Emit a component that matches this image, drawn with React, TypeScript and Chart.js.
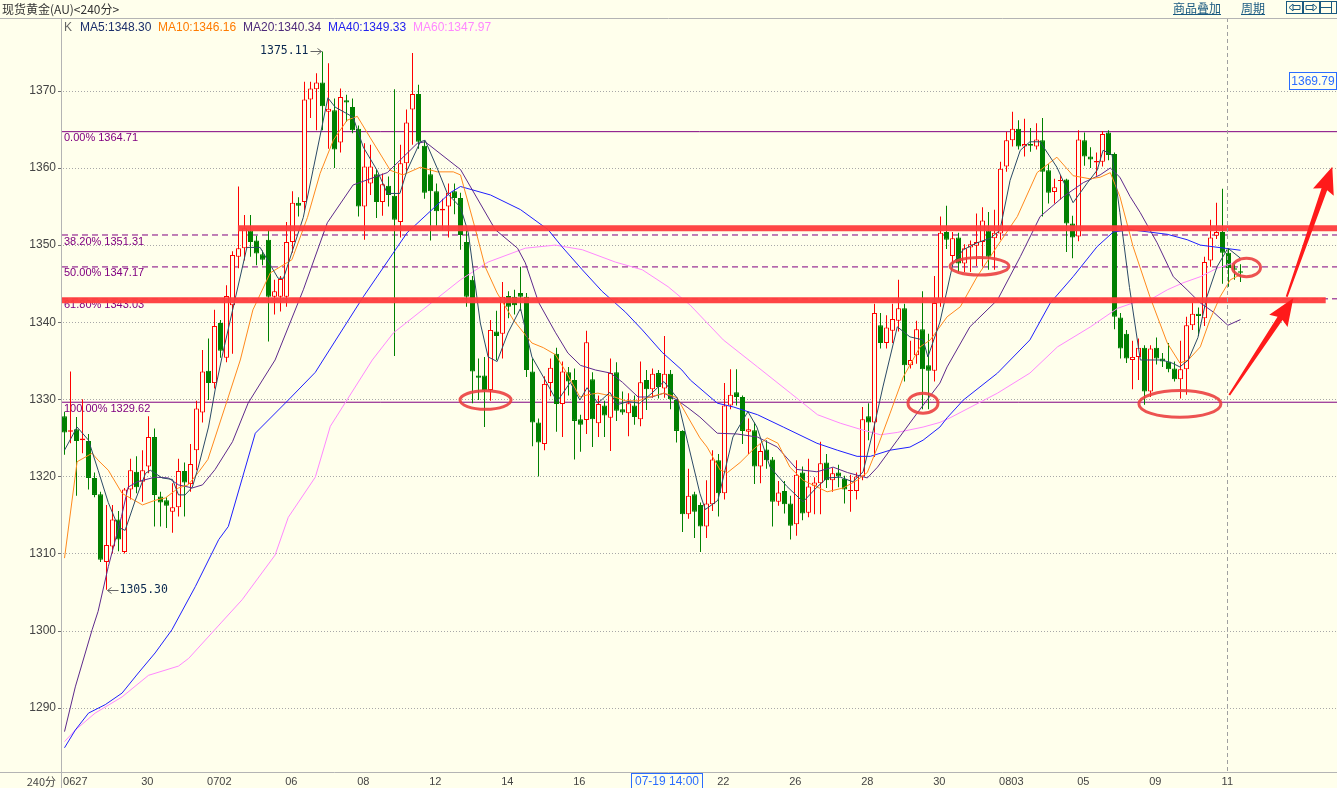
import React, { useEffect, useRef } from "react";
import { Chart, registerables } from "chart.js";

Chart.register(...registerables);

const W = 1337;
const H = 788;
const BG = "#FFFFEC";
const UP = "#FF0000";
const DOWN = "#008000";

const X_MIN = -0.4167;
const X_MAX = 212.0833;
const Y_MIN = 1281.66;
const Y_MAX = 1379.455;

const yTickValues = [1290, 1300, 1310, 1320, 1330, 1340, 1350, 1360, 1370];
const xTickPositions = [1.8, 13.8, 25.8, 37.8, 49.8, 61.8, 73.8, 85.8, 97.8, 109.8, 121.8, 133.8, 145.8, 157.8, 169.8, 181.8, 193.8];
const xTickLabels = ["0627", "30", "0702", "06", "08", "12", "14", "16", "", "22", "26", "28", "30", "0803", "05", "09", "11"];

const openPrices = [
  1327.8, 1325.8, 1326.1, 1324.7, 1324.6, 1319.8, 1317.7, 1308.9, 1310.9, 1314.4,
  1310.2, 1318.3, 1320.6, 1319.3, 1321.3, 1325.1, 1317.4, 1316.9, 1315.4, 1316.0,
  1320.7, 1319.0, 1323.4, 1328.3, 1333.7, 1332.1, 1339.9, 1335.4, 1342.2, 1348.5,
  1349.6, 1351.9, 1350.6, 1348.8, 1350.7, 1343.3, 1343.3, 1343.3, 1350.4, 1355.5,
  1355.6, 1368.9, 1370.2, 1371.1, 1367.3, 1367.5, 1363.3, 1368.8, 1367.9, 1365.1,
  1355.0, 1358.0, 1359.2, 1355.6, 1357.7, 1356.4, 1353.0, 1360.6, 1367.6, 1369.6,
  1362.9, 1359.2, 1357.0, 1354.5, 1355.0, 1357.0, 1356.1, 1350.4, 1345.5, 1333.1,
  1333.1, 1331.2, 1338.8, 1338.5, 1343.4, 1343.3, 1343.8, 1343.3, 1333.6, 1327.0,
  1324.2, 1332.1, 1335.9, 1329.4, 1333.5, 1332.5, 1327.4, 1327.3, 1332.6, 1326.9,
  1329.2, 1327.6, 1333.5, 1328.7, 1328.2, 1329.2, 1327.4, 1332.5, 1331.3, 1333.4,
  1331.4, 1333.3, 1329.9, 1325.9, 1315.1, 1317.7, 1316.3, 1313.5, 1316.4, 1322.1,
  1317.8, 1329.2, 1330.9, 1330.3, 1325.8, 1326.0, 1321.3, 1323.5, 1322.2, 1316.7,
  1318.1, 1316.5, 1313.8, 1320.5, 1315.3, 1318.8, 1319.1, 1321.8, 1319.5, 1320.5,
  1319.7, 1318.1, 1318.1, 1320.0, 1327.8, 1327.0, 1339.6, 1337.3, 1338.9, 1340.2,
  1341.8, 1334.4, 1335.7, 1339.1, 1334.4, 1333.7, 1342.9, 1351.7, 1348.6, 1351.0,
  1347.6, 1349.7, 1349.9, 1350.4, 1351.9, 1350.9, 1351.5, 1360.2, 1363.6, 1365.1,
  1362.8, 1363.1, 1362.8, 1363.6, 1359.7, 1356.9, 1358.3, 1358.5, 1352.8, 1351.1,
  1363.6, 1361.5, 1360.7, 1360.8, 1364.6, 1361.8, 1340.6, 1338.5, 1335.1, 1335.5,
  1336.7, 1331.0, 1336.7, 1335.3, 1334.9, 1334.0, 1332.6, 1333.9, 1339.6, 1341.1,
  1340.5, 1348.0, 1351.2, 1351.7, 1349.0, 1347.0, 1346.6
];

const highPrices = [
  1328.4, 1333.6, 1327.7, 1330.0, 1325.5, 1320.5, 1318.0, 1316.3, 1316.3, 1315.5,
  1318.5, 1322.3, 1322.6, 1323.4, 1327.8, 1326.2, 1318.0, 1317.3, 1319.1, 1322.3,
  1321.8, 1324.2, 1329.8, 1336.4, 1337.9, 1341.6, 1340.3, 1344.8, 1349.2, 1357.6,
  1353.9, 1353.9, 1351.2, 1349.3, 1352.0, 1345.5, 1346.0, 1353.0, 1357.0, 1356.2,
  1371.2, 1371.2, 1372.3, 1375.11, 1373.6, 1369.0, 1370.3, 1369.5, 1369.0, 1365.5,
  1363.2, 1363.0, 1359.8, 1359.3, 1358.9, 1370.2, 1363.0, 1367.6, 1374.9, 1370.8,
  1363.5, 1360.0, 1358.0, 1356.0, 1358.0, 1358.0, 1356.8, 1352.0, 1346.0, 1335.3,
  1335.5, 1340.3, 1341.5, 1345.2, 1344.0, 1344.2, 1347.2, 1343.8, 1335.3, 1327.5,
  1333.0, 1335.3, 1336.7, 1334.9, 1334.2, 1334.0, 1328.0, 1338.9, 1333.5, 1330.5,
  1329.8, 1335.3, 1334.8, 1331.0, 1330.8, 1330.5, 1334.9, 1333.8, 1334.0, 1333.8,
  1338.2, 1333.8, 1330.0, 1326.0, 1321.0, 1318.0, 1316.6, 1319.5, 1323.4, 1322.9,
  1332.1, 1333.9, 1333.9, 1330.5, 1327.5, 1327.0, 1324.3, 1324.7, 1322.5, 1319.4,
  1319.4, 1317.5, 1322.1, 1321.3, 1322.3, 1319.9, 1324.5, 1322.9, 1321.1, 1321.5,
  1320.1, 1320.2, 1320.5, 1329.0, 1329.5, 1342.4, 1341.2, 1340.9, 1342.4, 1345.5,
  1342.4, 1337.6, 1340.2, 1344.0, 1338.5, 1346.0, 1353.7, 1355.1, 1351.7, 1351.6,
  1350.1, 1350.6, 1354.1, 1354.9, 1354.3, 1354.6, 1360.8, 1364.7, 1367.3, 1366.2,
  1366.4, 1365.2, 1365.8, 1366.5, 1360.5, 1358.6, 1359.1, 1358.6, 1353.8, 1364.9,
  1364.6, 1362.7, 1362.0, 1364.8, 1364.9, 1362.0, 1341.2, 1339.0, 1337.6, 1337.9,
  1337.0, 1337.0, 1338.0, 1336.0, 1337.3, 1334.9, 1337.6, 1340.7, 1342.5, 1341.9,
  1348.5, 1353.3, 1355.5, 1357.3, 1349.5, 1347.6, 1347.5
];

const lowPrices = [
  1322.8, 1324.3, 1317.5, 1323.0, 1318.3, 1317.3, 1308.9, 1305.3, 1310.0, 1310.3,
  1310.0, 1317.0, 1317.8, 1316.7, 1320.4, 1313.5, 1313.5, 1313.3, 1312.7, 1314.8,
  1314.8, 1318.0, 1320.8, 1327.0, 1329.9, 1331.4, 1335.4, 1334.8, 1335.9, 1347.0,
  1348.0, 1348.5, 1347.4, 1347.4, 1337.5, 1341.0, 1341.4, 1342.0, 1349.0, 1353.7,
  1354.5, 1366.5, 1364.9, 1364.9, 1362.5, 1360.0, 1362.0, 1366.0, 1364.5, 1353.7,
  1350.7, 1356.5, 1353.5, 1353.8, 1355.0, 1335.6, 1351.0, 1359.5, 1363.0, 1362.5,
  1356.0, 1350.6, 1352.5, 1352.0, 1351.0, 1354.0, 1349.4, 1342.0, 1329.5, 1329.9,
  1326.4, 1329.8, 1335.1, 1335.3, 1340.5, 1341.0, 1341.5, 1332.9, 1323.9, 1320.0,
  1323.4, 1330.4, 1325.8, 1325.1, 1330.5, 1322.2, 1323.2, 1325.5, 1323.8, 1325.1,
  1325.1, 1323.3, 1327.2, 1328.0, 1325.2, 1326.7, 1326.5, 1328.6, 1330.2, 1330.1,
  1330.2, 1328.7, 1324.4, 1312.8, 1314.5, 1312.0, 1310.2, 1312.0, 1315.5, 1314.8,
  1317.0, 1328.7, 1329.2, 1324.2, 1322.9, 1319.0, 1319.1, 1321.0, 1313.5, 1316.2,
  1315.2, 1311.8, 1312.3, 1314.3, 1314.7, 1315.1, 1315.1, 1318.5, 1318.0, 1318.6,
  1316.5, 1315.4, 1317.0, 1319.5, 1324.7, 1322.5, 1336.6, 1336.6, 1337.3, 1338.8,
  1332.3, 1334.0, 1334.6, 1328.7, 1328.7, 1332.3, 1342.0, 1349.5, 1347.6, 1346.5,
  1346.5, 1346.5, 1347.3, 1347.3, 1346.8, 1346.8, 1350.7, 1359.5, 1362.8, 1362.4,
  1361.5, 1362.1, 1362.4, 1353.7, 1355.4, 1355.4, 1355.9, 1349.1, 1348.3, 1350.5,
  1360.3, 1360.0, 1359.0, 1360.2, 1361.0, 1339.1, 1335.3, 1334.7, 1331.3, 1332.5,
  1329.3, 1330.3, 1334.5, 1334.2, 1333.5, 1332.3, 1330.1, 1330.6, 1339.0, 1338.2,
  1339.5, 1347.2, 1350.8, 1345.0, 1344.6, 1345.5, 1345.2
];

const closePrices = [
  1325.7, 1326.0, 1324.6, 1324.9, 1319.8, 1317.6, 1309.2, 1311.1, 1314.4, 1311.8,
  1318.3, 1320.8, 1318.6, 1320.8, 1325.1, 1317.6, 1316.6, 1316.2, 1316.0, 1320.7,
  1319.2, 1321.6, 1328.8, 1333.6, 1332.1, 1339.5, 1336.3, 1343.4, 1348.7, 1349.6,
  1352.2, 1350.4, 1348.9, 1348.1, 1343.3, 1344.0, 1345.6, 1350.4, 1355.5, 1355.1,
  1368.9, 1370.3, 1371.1, 1368.0, 1367.7, 1362.4, 1369.2, 1368.5, 1364.9, 1355.0,
  1360.2, 1360.2, 1355.6, 1357.9, 1356.5, 1353.3, 1360.6, 1365.9, 1369.6, 1363.4,
  1356.8, 1357.0, 1354.4, 1354.7, 1356.8, 1356.1, 1351.3, 1343.3, 1333.6, 1332.8,
  1331.2, 1339.0, 1338.2, 1343.3, 1342.0, 1342.2, 1343.3, 1333.8, 1327.0, 1324.4,
  1332.0, 1334.1, 1329.4, 1333.6, 1332.3, 1327.2, 1326.7, 1337.4, 1327.4, 1329.4,
  1327.9, 1333.4, 1328.5, 1328.3, 1329.5, 1327.7, 1332.2, 1331.3, 1333.3, 1331.6,
  1333.3, 1330.0, 1325.9, 1315.1, 1317.5, 1315.4, 1313.5, 1316.5, 1322.2, 1317.8,
  1329.2, 1330.6, 1330.3, 1325.9, 1326.1, 1321.3, 1323.3, 1322.1, 1316.7, 1317.9,
  1316.4, 1313.6, 1320.2, 1315.2, 1318.7, 1319.2, 1321.7, 1319.5, 1320.4, 1320.0,
  1318.3, 1318.2, 1320.0, 1327.4, 1327.0, 1341.2, 1337.3, 1339.3, 1340.4, 1341.8,
  1334.4, 1335.1, 1339.1, 1333.9, 1333.7, 1342.5, 1351.6, 1350.7, 1350.9, 1347.6,
  1349.6, 1350.1, 1350.4, 1353.2, 1348.5, 1351.6, 1359.9, 1363.6, 1365.1, 1362.8,
  1363.1, 1362.9, 1363.7, 1359.5, 1356.8, 1357.5, 1358.4, 1352.8, 1351.0, 1363.7,
  1361.5, 1361.1, 1360.9, 1364.4, 1361.7, 1340.7, 1336.6, 1335.3, 1335.5, 1336.7,
  1331.0, 1336.6, 1335.3, 1334.9, 1333.9, 1332.6, 1333.9, 1339.6, 1341.1, 1340.8,
  1347.8, 1351.0, 1351.7, 1349.0, 1347.0, 1346.8, 1346.4
];

// moving averages: [bar index, value]
const ma5Points = [
  [0, 1323.4], [2.1, 1326.4], [4, 1324.7], [5.6, 1320.8], [7.3, 1316.6], [9, 1313.4], [10.1, 1313.0],
  [11.8, 1316.9], [13.5, 1320.4], [14.3, 1320.8], [16.3, 1319.8], [18, 1319.6], [19, 1317.6], [20.1, 1317.6],
  [21.3, 1318.6], [22.3, 1321.2], [24, 1326.4], [25.1, 1331.2], [26.5, 1336.4], [30.4, 1349.7], [32.6, 1349.7],
  [35.6, 1345.7], [36.5, 1345.7], [39.8, 1353.6], [43.9, 1369.1], [45.1, 1367.9], [48.1, 1366.6], [49.8, 1362.7],
  [52.1, 1359.7], [53.8, 1356.7], [55.9, 1356.7], [57.1, 1359.7], [59.3, 1363.4], [60.1, 1363.6], [62.1, 1360.0],
  [63.8, 1356.7], [66, 1354.9], [67.3, 1351.6], [69.3, 1339.9], [70.6, 1335.5], [72.1, 1334.9], [73.9, 1338.6],
  [76, 1341.8], [77.9, 1335.5], [80.1, 1332.5], [82.1, 1329.7], [84.3, 1332.2], [85.9, 1329.9], [87.1, 1331.5],
  [88.9, 1329.5], [90.9, 1330.9], [92.1, 1329.3], [93.9, 1329.7], [95.9, 1329.5], [97.9, 1330.8], [99.9, 1332.3],
  [102.1, 1330.2], [103.9, 1324.3], [105.9, 1317.8], [106.8, 1315.7], [108.9, 1316.9], [111.4, 1325.1],
  [113.9, 1328.4], [115.4, 1326.4], [117.6, 1321.2], [120.4, 1318.7], [123.1, 1316.7], [125.4, 1318.6],
  [127.1, 1319.8], [129.3, 1319.9], [131.4, 1319.3], [133.1, 1320.6], [134.8, 1326.0], [136.4, 1331.6],
  [138.8, 1339.4], [140.9, 1338.1], [143.1, 1337.7], [143.9, 1335.5], [145.9, 1340.0], [148.1, 1347.7],
  [149.8, 1349.4], [152.1, 1350.3], [154.3, 1350.9], [155.9, 1351.9], [157.6, 1358.4], [159.3, 1362.3],
  [160.9, 1363.4], [162.6, 1363.4], [165.4, 1360.1], [168.1, 1355.5], [170.5, 1358.1], [172.1, 1359.7],
  [173.1, 1362.3], [174.6, 1361.7], [175.9, 1354.2], [177.5, 1344.5], [179.3, 1335.1], [182.9, 1335.1],
  [184.6, 1334.7], [185.9, 1334.2], [187.3, 1335.1], [188.9, 1338.0], [190.4, 1343.3], [192.1, 1347.2],
  [193.9, 1349.6], [196, 1348.3]
];

const ma10Points = [
  [0, 1309.4], [2.1, 1321.9], [4.6, 1323.0], [5.6, 1322.1], [7.3, 1320.8], [9.6, 1317.8], [13, 1316.3],
  [15.1, 1316.9], [16.8, 1317.2], [19, 1318.5], [20.6, 1318.9], [22.3, 1320.5], [23.9, 1322.2], [27.3, 1330.3],
  [29.3, 1335.1], [31.4, 1341.6], [34.3, 1346.4], [37.9, 1348.1], [40.5, 1353.6], [42.6, 1359.3], [44.8, 1363.6],
  [47.1, 1366.2], [48.8, 1366.7], [50.9, 1364.0], [54.3, 1359.7], [56.4, 1359.1], [59.3, 1360.1], [62.1, 1359.5],
  [64.8, 1359.5], [66, 1359.1], [68.5, 1352.0], [70.1, 1347.2], [72.1, 1343.8], [74.8, 1340.3], [77.9, 1337.3],
  [79.8, 1336.7], [81.8, 1335.8], [83.4, 1333.8], [85.9, 1330.3], [87.3, 1330.6], [88.9, 1330.8], [91.3, 1330.4],
  [93.5, 1329.8], [95.6, 1329.8], [98, 1330.4], [100, 1330.8], [102.1, 1330.2], [103.9, 1327.7], [105.9, 1325.0],
  [107.1, 1323.8], [109.3, 1320.8], [110.5, 1320.5], [112.6, 1321.8], [114.8, 1323.5], [117.1, 1325.0],
  [118.9, 1324.3], [120.9, 1321.2], [123.1, 1319.5], [127.1, 1318.0], [129.8, 1318.5], [132.1, 1319.5],
  [133.8, 1320.5], [135.5, 1323.8], [137.6, 1328.2], [139.8, 1332.9], [142.6, 1336.8], [144.3, 1337.7],
  [147.1, 1340.7], [149.3, 1342.0], [152.1, 1345.9], [155.4, 1349.8], [158.8, 1353.7], [162.1, 1359.4],
  [165.4, 1361.4], [168.1, 1359.0], [170.9, 1358.6], [172.6, 1358.8], [174.3, 1359.4], [175.9, 1356.3],
  [178.1, 1349.8], [180.9, 1343.3], [183.8, 1337.3], [185.9, 1334.7], [187.3, 1335.1], [189.3, 1336.8],
  [190.9, 1340.3], [192.6, 1343.3], [194.3, 1345.5], [196, 1346.16]
];

const ma20Points = [
  [0, 1286.9], [1.8, 1292.7], [4.6, 1300.1], [5.6, 1302.5], [7.3, 1308.3], [9.5, 1314.8], [10.6, 1318.6],
  [12.1, 1319.3], [15.1, 1319.9], [17.3, 1319.8], [19, 1318.9], [21.3, 1318.5], [23, 1318.9], [25.1, 1320.9],
  [28, 1324.5], [30.6, 1329.5], [33, 1332.5], [35.1, 1335.1], [39.8, 1344.2], [43.8, 1352.9], [48.1, 1357.8],
  [53.8, 1359.4], [58.8, 1363.2], [60.1, 1363.4], [66, 1359.8], [71.8, 1352.0], [75.5, 1349.6], [76.8, 1347.7],
  [79, 1342.6], [81.8, 1338.7], [83.9, 1336.0], [86, 1334.4], [88.5, 1333.8], [91, 1333.4], [93, 1332.2],
  [95.6, 1330.3], [97.9, 1330.3], [99.9, 1330.8], [102.1, 1329.9], [103.9, 1328.9], [105.9, 1327.7],
  [108.8, 1325.6], [112.1, 1325.5], [115.5, 1325.1], [118.8, 1323.8], [122.1, 1320.9], [125.4, 1320.6],
  [128.1, 1321.2], [130.5, 1320.5], [133.8, 1319.8], [135.5, 1321.2], [138.8, 1324.7], [142.1, 1328.2],
  [145.9, 1332.1], [147.1, 1334.2], [150.9, 1339.4], [155.5, 1342.9], [159.3, 1348.5], [162.6, 1353.7],
  [166.5, 1356.3], [169.8, 1358.1], [172.6, 1359.1], [174.3, 1360.0], [175.9, 1358.8], [177.6, 1356.3],
  [179.3, 1354.2], [182.1, 1350.3], [184.8, 1345.9], [187.1, 1344.2], [189.3, 1342.5], [191.5, 1341.3],
  [193.9, 1339.6], [196, 1340.34]
];

const ma40Points = [
  [0, 1284.8], [1.8, 1287.1], [4, 1289.3], [6.8, 1290.4], [9.6, 1291.9], [12.3, 1294.5], [15.1, 1297.1],
  [17.9, 1300.1], [21.8, 1305.7], [25.7, 1311.8], [27.3, 1313.5], [31.8, 1325.6], [37.3, 1329.9], [41.8, 1333.5],
  [43.1, 1335.1], [49.8, 1343.3], [57.1, 1351.6], [64.3, 1356.8], [66, 1357.6], [71, 1356.5], [76, 1354.6],
  [80.6, 1352.0], [82.9, 1349.8], [86.3, 1346.8], [89.6, 1344.0], [93.5, 1341.3], [96.3, 1339.0], [99.6, 1336.1],
  [102.9, 1333.8], [104.3, 1332.5], [108.8, 1329.5], [111.5, 1329.0], [115.5, 1328.0], [119.8, 1326.4],
  [125.4, 1324.3], [128.8, 1323.4], [132.1, 1322.6], [134.3, 1322.6], [137.6, 1323.4], [140.9, 1323.8],
  [143.1, 1324.7], [145.9, 1326.4], [147.1, 1327.6], [149.8, 1329.9], [155.5, 1333.4], [160.9, 1337.7],
  [164.3, 1342.5], [168.1, 1345.9], [172.1, 1349.8], [174.8, 1351.7], [177.6, 1352.0], [183.8, 1351.4],
  [187.1, 1350.7], [189.3, 1350.0], [196, 1349.33]
];

const ma60Points = [
  [0, 1285.6], [1.8, 1287.1], [5.1, 1289.3], [9.6, 1291.4], [14, 1294.2], [19, 1295.4], [20.7, 1296.4],
  [26.2, 1301.1], [29.6, 1304.0], [35.1, 1309.8], [37.3, 1314.7], [41.8, 1319.9], [44.3, 1326.5], [51.3, 1335.1],
  [54.8, 1338.6], [66, 1345.5], [70.6, 1347.8], [76.8, 1349.6], [81.8, 1350.0], [86.3, 1349.4], [91.8, 1347.8],
  [96.3, 1346.8], [100.6, 1344.6], [104.3, 1342.2], [109.8, 1337.7], [115.5, 1334.2], [121, 1330.8],
  [125.5, 1328.0], [129.3, 1326.9], [133.1, 1326.0], [136, 1325.4], [138.8, 1325.7], [143.1, 1326.4],
  [145.9, 1327.0], [147.6, 1327.6], [155.5, 1330.8], [160.9, 1333.4], [165.5, 1336.8], [171, 1339.4],
  [175.5, 1341.8], [178.1, 1342.5], [180.9, 1342.9], [183.8, 1344.2], [186.4, 1345.1], [189.3, 1345.9],
  [192.1, 1347.0], [196, 1347.97]
];

const maNames = ["MA5", "MA10", "MA20", "MA40", "MA60"];
const maLastValues = [1348.3, 1346.16, 1340.34, 1349.33, 1347.97];
const maLineColors = ["#2b4a66", "#ff8a1e", "#5e2a8c", "#1f1fff", "#ff88ff"];
const maTextColors = ["#1c2f6b", "#ff7b00", "#4d2a7a", "#2222ee", "#ff88ff"];
const maLegendX = [80, 158, 243, 328, 413];

const fibLevels = [1364.71, 1351.31, 1347.17, 1343.03, 1329.62];
const fibNames = ["0.00%", "38.20%", "50.00%", "61.80%", "100.00%"];
const fibDashed = [false, true, true, true, false];

const bandLevels = [1352.2, 1342.86];
const bandFrom = [28.9, X_MIN];
const bandTo = [X_MAX, 210.2];

const ellipseK = [70.17, 143.08, 152.5, 185.9, 197.0];
const ellipseP = [1329.9, 1329.5, 1347.25, 1329.4, 1347.1];
const ellipseRx = [25.5, 15, 29.5, 41, 14];
const ellipseRy = [9.3, 10, 8.7, 13.3, 9.2];

const arrowFromK = [194.13, 203.7];
const arrowFromP = [1330.56, 1343.3];
const arrowToK = [204.8, 211.3];
const arrowToP = [1343.1, 1360.17];

const highMarkK = 43;
const highMarkValue = 1375.11;
const lowMarkK = 7;
const lowMarkValue = 1305.3;

const crossK = 193.75;
const crossPrice = 1369.79;
const crossDate = "07-19 14:00";

function drawArrow(ctx: any, x1: number, y1: number, x2: number, y2: number, headLen: number, headW: number, tailW: number, neckW: number) {
  const ang = Math.atan2(y2 - y1, x2 - x1);
  const len = Math.hypot(x2 - x1, y2 - y1);
  ctx.save();
  ctx.translate(x1, y1);
  ctx.rotate(ang);
  ctx.beginPath();
  ctx.moveTo(0, -tailW / 2);
  ctx.lineTo(len - headLen, -neckW / 2);
  ctx.lineTo(len - headLen - 3, -headW / 2);
  ctx.lineTo(len, 0);
  ctx.lineTo(len - headLen - 3, headW / 2);
  ctx.lineTo(len - headLen, neckW / 2);
  ctx.lineTo(0, tailW / 2);
  ctx.closePath();
  ctx.fill();
  ctx.restore();
}

const decorPlugin = {
  id: "decor",
  beforeDraw(chart: any) {
    const ctx = chart.ctx;
    const a = chart.chartArea;
    const ys = chart.scales.y;
    ctx.save();
    ctx.fillStyle = BG;
    ctx.fillRect(0, 0, W, H);
    ctx.lineWidth = 1;
    ctx.strokeStyle = "#a8a8a8";
    ctx.setLineDash([1, 2]);
    for (const v of yTickValues) {
      const y = Math.round(ys.getPixelForValue(v)) + 0.5;
      ctx.beginPath();
      ctx.moveTo(a.left + 1, y);
      ctx.lineTo(a.right, y);
      ctx.stroke();
    }
    ctx.setLineDash([]);
    ctx.strokeStyle = "#707070";
    for (const v of yTickValues) {
      const y = Math.round(ys.getPixelForValue(v)) + 0.5;
      ctx.beginPath();
      ctx.moveTo(a.left - 4, y);
      ctx.lineTo(a.left, y);
      ctx.stroke();
    }
    ctx.restore();
  },
  beforeDatasetsDraw(chart: any) {
    const ctx = chart.ctx;
    const a = chart.chartArea;
    const ys = chart.scales.y;
    ctx.save();
    ctx.font = '11px "Liberation Sans"';
    ctx.fillStyle = "#800080";
    ctx.textBaseline = "top";
    ctx.textAlign = "left";
    fibLevels.forEach((lv, i) => {
      ctx.fillText(fibNames[i] + " " + lv.toFixed(2), a.left + 2, ys.getPixelForValue(lv) + 1);
    });
    ctx.restore();
  },
  afterDatasetsDraw(chart: any) {
    const ctx = chart.ctx;
    const a = chart.chartArea;
    const xs = chart.scales.x;
    const ys = chart.scales.y;
    ctx.save();
    // crosshair
    const cx = Math.round(xs.getPixelForValue(crossK)) + 0.5;
    ctx.strokeStyle = "#a0a0a0";
    ctx.lineWidth = 1;
    ctx.setLineDash([4, 3]);
    ctx.beginPath();
    ctx.moveTo(cx, a.top);
    ctx.lineTo(cx, a.bottom);
    ctx.stroke();
    ctx.setLineDash([]);
    // ellipses
    ctx.strokeStyle = "rgba(235,64,64,0.9)";
    ctx.lineWidth = 3;
    ellipseK.forEach((k, i) => {
      ctx.beginPath();
      ctx.ellipse(xs.getPixelForValue(k), ys.getPixelForValue(ellipseP[i]), ellipseRx[i], ellipseRy[i], 0, 0, Math.PI * 2);
      ctx.stroke();
    });
    // arrows
    ctx.fillStyle = "#ff1a1a";
    arrowFromK.forEach((k, i) => {
      drawArrow(ctx, xs.getPixelForValue(k), ys.getPixelForValue(arrowFromP[i]), xs.getPixelForValue(arrowToK[i]), ys.getPixelForValue(arrowToP[i]), 24, 22, 2, 6);
    });
    // high / low markers
    ctx.font = '11.5px "DejaVu Sans Mono"';
    ctx.fillStyle = "#0a2850";
    ctx.textBaseline = "middle";
    const hx = xs.getPixelForValue(highMarkK);
    const hy = Math.round(ys.getPixelForValue(highMarkValue)) + 0.5;
    ctx.textAlign = "right";
    ctx.fillText(highMarkValue.toFixed(2), hx - 14, hy);
    const lx = xs.getPixelForValue(lowMarkK);
    const ly = Math.round(ys.getPixelForValue(lowMarkValue)) + 0.5;
    ctx.textAlign = "left";
    ctx.fillText(lowMarkValue.toFixed(2), lx + 13, ly);
    ctx.strokeStyle = "#666";
    ctx.lineWidth = 1;
    ctx.beginPath();
    ctx.moveTo(hx - 12, hy); ctx.lineTo(hx - 1, hy);
    ctx.moveTo(hx - 5, hy - 3); ctx.lineTo(hx - 1, hy); ctx.lineTo(hx - 5, hy + 3);
    ctx.moveTo(lx + 1, ly); ctx.lineTo(lx + 12, ly);
    ctx.moveTo(lx + 5, ly - 3); ctx.lineTo(lx + 1, ly); ctx.lineTo(lx + 5, ly + 3);
    ctx.stroke();
    ctx.restore();
  },
  afterDraw(chart: any) {
    const ctx = chart.ctx;
    const a = chart.chartArea;
    const ys = chart.scales.y;
    ctx.save();
    // frame lines
    ctx.strokeStyle = "#b4b4b4";
    ctx.lineWidth = 1;
    ctx.beginPath();
    ctx.moveTo(0, a.top + 0.5); ctx.lineTo(W, a.top + 0.5);
    ctx.moveTo(0, a.bottom + 0.5); ctx.lineTo(W, a.bottom + 0.5);
    ctx.moveTo(a.left - 0.5, a.top); ctx.lineTo(a.left - 0.5, H);
    ctx.stroke();
    // header
    ctx.textBaseline = "middle";
    ctx.textAlign = "left";
    ctx.font = '12px "Noto Sans CJK SC"';
    ctx.fillStyle = "#333";
    ctx.fillText("现货黄金(AU)<240分>", 2, 9);
    ctx.fillStyle = "#1a5a80";
    ctx.strokeStyle = "#1a5a80";
    const links = [["商品叠加", 1173], ["周期", 1241]];
    links.forEach(([t, x]: any) => {
      ctx.fillText(t, x, 8);
      const w = ctx.measureText(t).width;
      ctx.beginPath();
      ctx.moveTo(x, 14.5); ctx.lineTo(x + w, 14.5);
      ctx.stroke();
    });
    // small icon buttons
    const boxes = [1286.5, 1303.5, 1320.5];
    boxes.forEach((bx) => ctx.strokeRect(bx, 1.5, 16, 12));
    ctx.beginPath();
    ctx.moveTo(1289, 7.5); ctx.lineTo(1293, 4); ctx.lineTo(1293, 11); ctx.closePath();
    ctx.moveTo(1293, 5.5); ctx.lineTo(1300, 5.5); ctx.lineTo(1300, 9.5); ctx.lineTo(1293, 9.5);
    ctx.moveTo(1317, 7.5); ctx.lineTo(1313, 4); ctx.lineTo(1313, 11); ctx.closePath();
    ctx.moveTo(1313, 5.5); ctx.lineTo(1306, 5.5); ctx.lineTo(1306, 9.5); ctx.lineTo(1313, 9.5);
    ctx.moveTo(1331.5, 1.5); ctx.lineTo(1331.5, 13.5);
    ctx.moveTo(1320.5, 7.5); ctx.lineTo(1331.5, 7.5);
    ctx.stroke();
    // legend
    ctx.font = '12px "Liberation Sans"';
    ctx.fillStyle = "#666";
    ctx.fillText("K", 64, 28);
    maNames.forEach((n, i) => {
      ctx.fillStyle = maTextColors[i];
      ctx.fillText(n + ":" + maLastValues[i].toFixed(2), maLegendX[i], 28);
    });
    // price box
    const py = ys.getPixelForValue(crossPrice);
    const by = Math.round(py) - 20.5;
    ctx.fillStyle = BG;
    ctx.fillRect(1289.5, by, 47, 17);
    ctx.strokeStyle = "#2a6cff";
    ctx.strokeRect(1289.5, by, 47, 17);
    ctx.fillStyle = "#2a6cff";
    ctx.textAlign = "center";
    ctx.fillText(crossPrice.toFixed(2), 1313, by + 9);
    // date box
    ctx.fillStyle = BG;
    ctx.fillRect(631.5, a.bottom + 1.5, 71, 16);
    ctx.strokeStyle = "#2a6cff";
    ctx.strokeRect(631.5, a.bottom + 1.5, 71, 16);
    ctx.fillStyle = "#2a6cff";
    ctx.fillText(crossDate, 667, a.bottom + 10);
    // period label
    ctx.textAlign = "right";
    ctx.fillStyle = "#444";
    ctx.font = '11px "Noto Sans CJK SC"';
    ctx.fillText("240分", 56, a.bottom + 9.5);
    ctx.restore();
  }
};

export default function App() {
  const ref = useRef<HTMLCanvasElement | null>(null);
  useEffect(() => {
    if (!ref.current) return;
    const idx = openPrices.map((_, i) => i);
    const isUp = idx.map((i) => closePrices[i] >= openPrices[i]);
    const datasets: any[] = [];
    fibLevels.forEach((lv, i) => {
      datasets.push({
        type: "line",
        data: [{ x: X_MIN, y: lv }, { x: X_MAX, y: lv }],
        borderColor: "#800080",
        borderWidth: 1,
        borderDash: fibDashed[i] ? [6, 4] : [],
        pointRadius: 0,
        tension: 0,
        order: 20,
      });
    });
    datasets.push({
      type: "bar",
      data: idx.map((i) => ({ x: i, y: [lowPrices[i], highPrices[i]] })),
      backgroundColor: isUp.map((u) => (u ? UP : DOWN)),
      borderWidth: 0,
      barThickness: 1,
      maxBarThickness: 1,
      grouped: false,
      inflateAmount: 0,
      order: 6,
    });
    datasets.push({
      type: "bar",
      data: idx.map((i) => ({ x: i, y: [openPrices[i], closePrices[i]] })),
      backgroundColor: isUp.map((u) => (u ? BG : DOWN)),
      borderColor: isUp.map((u) => (u ? UP : DOWN)),
      borderWidth: 1,
      borderSkipped: false,
      barThickness: 5,
      maxBarThickness: 5,
      minBarLength: 1,
      grouped: false,
      inflateAmount: 0,
      order: 5,
    });
    [ma5Points, ma10Points, ma20Points, ma40Points, ma60Points].forEach((pts, i) => {
      datasets.push({
        type: "line",
        data: pts.map(([x, y]) => ({ x, y })),
        borderColor: maLineColors[i],
        borderWidth: 1,
        pointRadius: 0,
        tension: 0,
        fill: false,
        order: 2,
      });
    });
    bandLevels.forEach((lv, i) => {
      datasets.push({
        type: "line",
        data: [{ x: bandFrom[i], y: lv }, { x: bandTo[i], y: lv }],
        borderColor: "rgba(255,60,60,0.95)",
        borderWidth: 6,
        borderCapStyle: "butt",
        pointRadius: 0,
        tension: 0,
        order: 0,
      });
    });

    const chart = new Chart(ref.current, {
      type: "bar",
      data: { datasets },
      options: {
        responsive: false,
        animation: false,
        devicePixelRatio: 1,
        events: [],
        layout: { padding: { top: 18, left: 0, right: 0, bottom: 0 } },
        plugins: { legend: { display: false }, tooltip: { enabled: false } },
        scales: {
          x: {
            type: "linear",
            min: X_MIN,
            max: X_MAX,
            offset: false,
            position: "bottom",
            afterFit: (s: any) => { s.height = 16; },
            afterBuildTicks: (s: any) => { s.ticks = xTickPositions.map((v) => ({ value: v })); },
            grid: { display: false, drawTicks: false },
            border: { display: false },
            ticks: {
              autoSkip: false,
              maxRotation: 0,
              minRotation: 0,
              padding: 3,
              color: "#444",
              font: { family: "Liberation Sans", size: 11 },
              callback: (_v: any, i: number) => xTickLabels[i] ?? "",
            },
          },
          y: {
            type: "linear",
            min: Y_MIN,
            max: Y_MAX,
            position: "left",
            beginAtZero: false,
            afterFit: (s: any) => { s.width = 62; },
            afterBuildTicks: (s: any) => { s.ticks = yTickValues.map((v) => ({ value: v })); },
            grid: { display: false, drawTicks: false },
            border: { display: false },
            ticks: {
              autoSkip: false,
              padding: 6,
              color: "#444",
              font: { family: "Liberation Sans", size: 12 },
              callback: (v: any) => String(v),
            },
          },
        },
      } as any,
      plugins: [decorPlugin as any],
    });
    return () => chart.destroy();
  }, []);

  return (
    <div style={{ position: "absolute", left: 0, top: 0, width: W, height: H, background: BG }}>
      <canvas ref={ref} width={W} height={H} style={{ display: "block", width: W, height: H }} />
    </div>
  );
}
